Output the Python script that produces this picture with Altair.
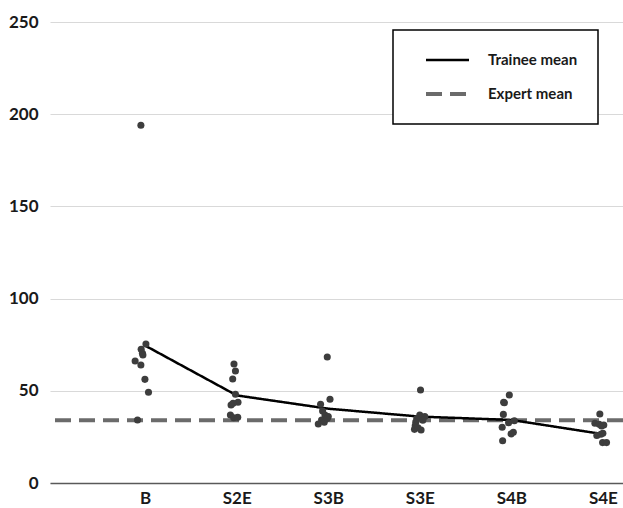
import json
import altair as alt
import pandas as pd

categories = ["B", "S2E", "S3B", "S3E", "S4B", "S4E"]

# individual trainee values per category
vals_B = [194.0, 75.4, 72.5, 70.3, 69.4, 66.2, 64.0, 56.2, 49.2, 34.2]
vals_S2E = [64.5, 60.7, 56.4, 48.1, 43.8, 43.2, 42.3, 36.9, 35.4, 35.6]
vals_S3B = [68.3, 45.4, 42.7, 39.0, 36.9, 36.0, 34.2, 32.0, 33.0, 35.0]
vals_S3E = [50.4, 36.9, 36.0, 35.0, 33.0, 31.0, 29.1, 28.7, 34.0, 30.0]
vals_S4B = [47.7, 43.8, 43.5, 37.2, 32.7, 33.8, 30.2, 26.6, 27.5, 22.9]
vals_S4E = [37.4, 32.4, 31.8, 30.9, 26.4, 25.8, 21.9, 21.9, 31.5, 27.0]

# horizontal jitter of each dot, in category units
jit_B = [-0.047, 0.008, -0.044, -0.030, -0.025, -0.110, -0.047, -0.003, 0.036, -0.084]
jit_S2E = [-0.030, -0.014, -0.044, -0.014, 0.014, -0.040, -0.062, -0.069, -0.033, 0.011]
jit_S3B = [-0.011, 0.019, -0.084, -0.062, -0.036, 0.000, -0.073, -0.109, -0.044, -0.011]
jit_S3E = [0.008, 0.000, 0.055, -0.033, -0.044, -0.050, -0.058, 0.014, 0.033, -0.020]
jit_S4B = [-0.022, -0.084, -0.076, -0.087, -0.030, 0.033, -0.100, -0.003, 0.022, -0.095]
jit_S4E = [-0.033, -0.087, -0.040, -0.014, -0.022, -0.066, -0.003, 0.040, 0.010, 0.000]

trainee_mean = [74.5, 47.5, 40.3, 36.0, 34.2, 26.5]
expert_mean = 34.0
series_names = ["Trainee mean", "Expert mean"]

all_vals = [vals_B, vals_S2E, vals_S3B, vals_S3E, vals_S4B, vals_S4E]
all_jit = [jit_B, jit_S2E, jit_S3B, jit_S3E, jit_S4B, jit_S4E]

pts = pd.DataFrame(
    [
        {"pos": i + 1 + j, "value": v}
        for i, (vs, js) in enumerate(zip(all_vals, all_jit))
        for v, j in zip(vs, js)
    ]
)
means = pd.DataFrame(
    {"pos": list(range(1, len(categories) + 1)), "value": trainee_mean, "series": series_names[0]}
)
expert = pd.DataFrame({"value": [expert_mean], "series": [series_names[1]]})

FONT = "Lato"
label_expr = "%s[datum.value - 1]" % json.dumps(categories)

x_enc = alt.X(
    "pos:Q",
    scale=alt.Scale(domain=[-0.04, 6.22], nice=False, zero=False),
    axis=alt.Axis(
        title=None,
        values=list(range(1, len(categories) + 1)),
        labelExpr=label_expr,
        grid=False,
        ticks=False,
        domainColor="#595959",
        domainWidth=1.5,
        labelFont=FONT,
        labelFontSize=17,
        labelFontWeight="bold",
        labelColor="#1a1a1a",
        labelPadding=7,
    ),
)
y_scale = alt.Scale(domain=[0, 250], nice=False)
y_axis = alt.Axis(
    title=None,
    values=[0, 50, 100, 150, 200, 250],
    domain=False,
    ticks=False,
    gridColor="#d9d9d9",
    gridWidth=1,
    labelFont=FONT,
    labelFontSize=17,
    labelFontWeight="bold",
    labelColor="#1a1a1a",
    labelPadding=12,
)

color_scale = alt.Scale(domain=series_names, range=["#000000", "#6b6b6b"])
dash_scale = alt.Scale(domain=series_names, range=[[1, 0], [16, 8]])
width_scale = alt.Scale(domain=series_names, range=[2.5, 4])
legend = alt.Legend(title=None)

rule = alt.Chart(expert).mark_rule().encode(
    y=alt.Y("value:Q", scale=y_scale, axis=y_axis),
    color=alt.Color("series:N", scale=color_scale, legend=legend),
    strokeDash=alt.StrokeDash("series:N", scale=dash_scale, legend=legend),
    strokeWidth=alt.StrokeWidth("series:N", scale=width_scale, legend=legend),
)

line = alt.Chart(means).mark_line().encode(
    x=x_enc,
    y=alt.Y("value:Q", scale=y_scale, axis=y_axis),
    color=alt.Color("series:N", scale=color_scale, legend=legend),
    strokeDash=alt.StrokeDash("series:N", scale=dash_scale, legend=legend),
    strokeWidth=alt.StrokeWidth("series:N", scale=width_scale, legend=legend),
)

points = alt.Chart(pts).mark_circle(size=50, color="#3d3d3d", opacity=1).encode(
    x=x_enc,
    y=alt.Y("value:Q", scale=y_scale, axis=y_axis),
)

chart = (
    alt.layer(rule, line, points)
    .properties(
        width=573,
        height=461,
        autosize=alt.AutoSizeParams(type="none"),
        padding={"left": 50, "top": 22, "right": 0, "bottom": 25},
        background="white",
    )
    .configure_view(stroke=None)
    .configure_legend(
        orient="none",
        legendX=343,
        legendY=8,
        strokeColor="#000000",
        strokeWidth=1.5,
        fillColor="white",
        padding=20,
        cornerRadius=0,
        symbolType="stroke",
        symbolSize=1849,
        symbolOffset=11,
        clipHeight=20,
        rowPadding=14,
        labelOffset=17,
        labelFont=FONT,
        labelFontSize=15,
        labelFontWeight="bold",
        labelColor="#1a1a1a",
    )
)

chart.save("out.html", embed_options={"renderer": "svg", "actions": False})
